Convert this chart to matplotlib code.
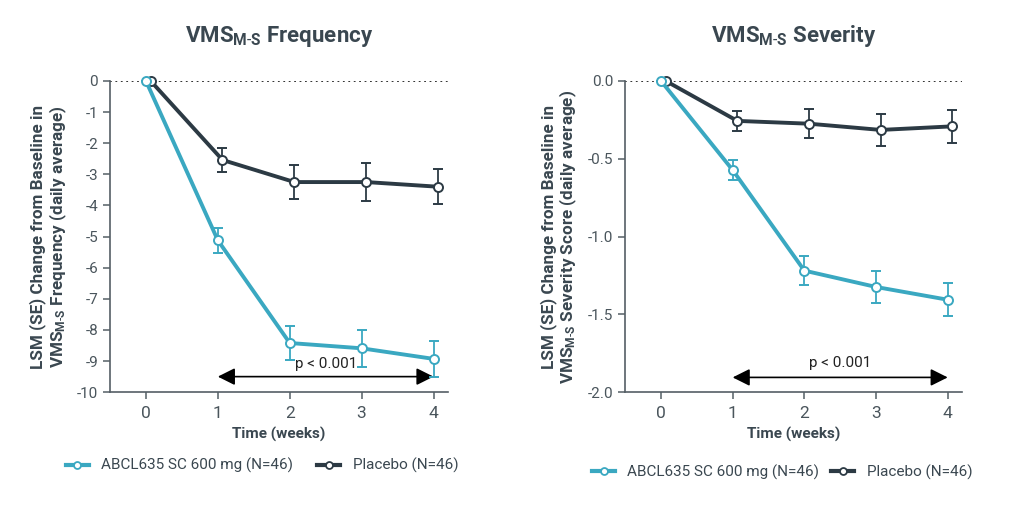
import matplotlib
matplotlib.use("Agg")
import matplotlib.pyplot as plt
from matplotlib.lines import Line2D
import numpy as np

plt.rcParams['font.family'] = ['Roboto', 'DejaVu Sans']
plt.rcParams['mathtext.fontset'] = 'custom'
plt.rcParams['mathtext.rm'] = 'Roboto'
plt.rcParams['mathtext.bf'] = 'Roboto:bold'
plt.rcParams['mathtext.it'] = 'Roboto:italic'

weeks = [0, 1, 2, 3, 4]

freq_abcl = [0, -5.12, -8.42, -8.59, -8.93]
freq_abcl_se = [0, 0.40, 0.55, 0.60, 0.58]
freq_pbo = [0, -2.54, -3.25, -3.25, -3.40]
freq_pbo_se = [0, 0.40, 0.55, 0.60, 0.57]

sev_abcl = [0, -0.573, -1.219, -1.324, -1.406]
sev_abcl_se = [0, 0.064, 0.092, 0.100, 0.105]
sev_pbo = [0, -0.257, -0.275, -0.315, -0.292]
sev_pbo_se = [0, 0.063, 0.093, 0.103, 0.105]

freq_yticks = [0, -1, -2, -3, -4, -5, -6, -7, -8, -9, -10]
sev_yticks = [0.0, -0.5, -1.0, -1.5, -2.0]

label_abcl = "ABCL635 SC 600 mg (N=46)"
label_pbo = "Placebo (N=46)"
p_text = "p < 0.001"

TEAL = "#3aa8c1"
DARK = "#2c3a44"
TXT = "#3a4750"
TICK = "#4a555c"

fig = plt.figure(figsize=(10.24, 5.12), dpi=100)
ax1 = fig.add_axes([0.1074, 0.234, 0.330, 0.608])
ax2 = fig.add_axes([0.6105, 0.234, 0.329, 0.608])

offset = 0.065

def panel(ax, a, ase, p, pse, yticks, ylim, ytl, title, ylabel, arrow_y, p_y,
          legend_y, legend_x, colsp):
    xa = np.array(weeks, float)
    xp = xa + offset
    ax.axhline(0, color='#222222', lw=1.3, ls=(0, (1, 2)), zorder=1)
    ax.errorbar(xp, p, yerr=pse, color=DARK, lw=2.8, marker='o', ms=6.5,
                mfc='white', mec=DARK, mew=1.4, elinewidth=1.3, capsize=3.5,
                capthick=1.3, zorder=3, clip_on=False)
    ax.errorbar(xa, a, yerr=ase, color=TEAL, lw=2.8, marker='o', ms=6.5,
                mfc='white', mec=TEAL, mew=1.4, elinewidth=1.3, capsize=3.5,
                capthick=1.3, zorder=4, clip_on=False)
    ax.set_xlim(-0.5, 4.2)
    ax.set_ylim(*ylim)
    ax.set_yticks(yticks)
    ax.set_yticklabels(ytl)
    ax.set_xticks(weeks)
    for s in ['top', 'right']:
        ax.spines[s].set_visible(False)
    for s in ['left', 'bottom']:
        ax.spines[s].set_color('#555f66')
        ax.spines[s].set_linewidth(1.2)
    ax.tick_params(colors='#555f66', labelcolor=TICK, labelsize=11, length=5, width=1.1)
    ax.tick_params(axis='x', labelsize=12.5, pad=5)
    ax.set_title(title, fontsize=16, fontweight='bold', color=TXT, pad=28)
    ax.set_ylabel(ylabel, fontsize=12.3, fontweight='bold', color=TXT, labelpad=6, linespacing=1.05)
    ax.set_xlabel("Time (weeks)", fontsize=11, fontweight='bold', color=TXT, labelpad=4)
    ax.annotate('', xy=(4, arrow_y), xytext=(1, arrow_y),
                arrowprops=dict(arrowstyle='<|-|>', color='black', lw=1.2,
                                mutation_scale=26, shrinkA=0, shrinkB=0))
    ax.text(2.5, p_y, p_text, ha='center', va='center', fontsize=11, color='#222222')
    handles = [
        Line2D([], [], color=TEAL, lw=3, marker='o', ms=5, mfc='white', mec=TEAL, mew=1.3),
        Line2D([], [], color=DARK, lw=3, marker='o', ms=5, mfc='white', mec=DARK, mew=1.3),
    ]
    ax.legend(handles, [label_abcl, label_pbo], loc='center', bbox_to_anchor=(legend_x, legend_y),
              ncol=2, frameon=False, fontsize=11, handlelength=1.5, columnspacing=colsp,
              handletextpad=0.8, labelcolor=TXT)

panel(ax1, freq_abcl, freq_abcl_se, freq_pbo, freq_pbo_se, freq_yticks, (-10, 0),
      [str(v) for v in freq_yticks],
      r"VMS$_{\mathbf{M\text{-}S}}$ Frequency",
      "LSM (SE) Change from Baseline in\n" + r"VMS$_{\mathbf{M\text{-}S}}$ Frequency (daily average)",
      -9.5, -9.1, -0.236, 0.45, 1.6)
panel(ax2, sev_abcl, sev_abcl_se, sev_pbo, sev_pbo_se, sev_yticks, (-2.0, 0.0),
      [f"{v:.1f}" for v in sev_yticks],
      r"VMS$_{\mathbf{M\text{-}S}}$ Severity",
      "LSM (SE) Change from Baseline in\n" + r"VMS$_{\mathbf{M\text{-}S}}$ Severity Score (daily average)",
      -1.905, -1.81, -0.258, 0.466, 0.8)

fig.savefig("out.png", dpi=100, facecolor='white')
